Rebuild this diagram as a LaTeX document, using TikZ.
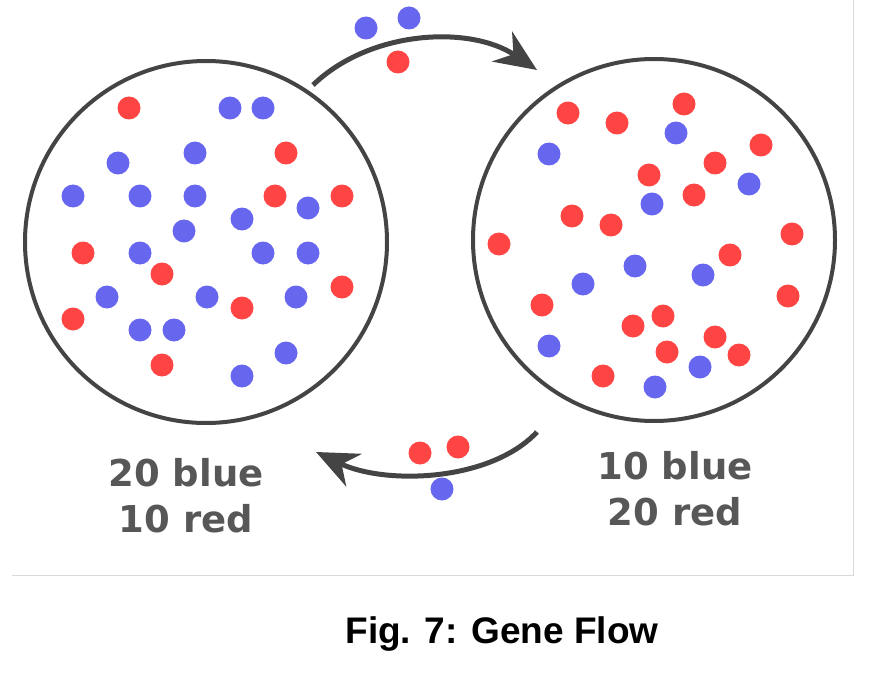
\documentclass[tikz,border=0pt]{standalone}
\usepackage{fontspec}
\setmainfont{Liberation Sans}
\newfontfamily\verd{DejaVu Sans}
\usetikzlibrary{arrows.meta}
\definecolor{bd}{HTML}{6666EE}
\definecolor{rd}{HTML}{FF4444}
\definecolor{ln}{HTML}{444444}
\begin{document}
\begin{tikzpicture}[x=1pt,y=-1pt,
  B/.style={circle,fill=bd,minimum size=23pt,inner sep=0pt},
  R/.style={circle,fill=rd,minimum size=23pt,inner sep=0pt},
  pop/.style={circle,draw=ln,line width=4pt,minimum size=362pt,inner sep=0pt},
  flow/.style={draw=ln,line width=5pt,-{Stealth[length=42pt,width=36pt]}},
  lbl/.style={font=\verd\bfseries\fontsize{37}{46}\selectfont,text=ln!90,align=center}]
\useasboundingbox (0,0) rectangle (884,674);
\draw[black!15,line width=1pt] (12,575) -- (853,575) -- (853,0);
\node[pop] (L) at (206,242) {};
\node[pop] (Rc) at (654,240) {};
\foreach \x/\y [count=\i] in {230/108,263/108,195/153,118/163,73/196,140/196,195/196,308/208,242/219,184/231,140/253,263/253,308/253,107/297,207/297,296/297,140/330,174/330,286/353,242/376}
  \node[B] (lb\i) at (\x,\y) {};
\foreach \x/\y [count=\i] in {129/108,286/153,275/196,342/196,83/253,162/274,342/287,242/308,73/319,162/365}
  \node[R] (lr\i) at (\x,\y) {};
\foreach \x/\y [count=\i] in {676/133,549/154,749/184,652/204,635/266,703/275,583/284,549/346,700/367,655/387}
  \node[B] (rb\i) at (\x,\y) {};
\foreach \x/\y [count=\i] in {568/113,617/123,684/104,761/145,715/163,649/175,694/195,572/216,611/225,499/244,792/234,730/255,788/296,542/305,663/316,633/326,715/337,667/352,739/355,603/376}
  \node[R] (rr\i) at (\x,\y) {};
\coordinate (t1) at (313,85);
\coordinate (t2) at (537,70);
\coordinate (b1) at (537,432);
\coordinate (b2) at (316,452);
\draw[flow] (t1) .. controls (370,30) and (470,25) .. (t2);
\draw[flow] (b1) .. controls (490,482) and (385,485) .. (b2);
\node[B] (m1) at (366,28) {};
\node[B] (m2) at (409,18) {};
\node[R] (m3) at (398,62) {};
\node[R] (m4) at (420,453) {};
\node[R] (m5) at (458,447) {};
\node[B] (m6) at (442,489) {};
\node[lbl] (tl) at (186,496) {20 blue\\10 red};
\node[lbl] (tr) at (675,489) {10 blue\\20 red};
\node[font=\bfseries\fontsize{37}{42}\selectfont] (cap) at (502,634) {Fig. 7: Gene Flow};
\end{tikzpicture}
\end{document}
